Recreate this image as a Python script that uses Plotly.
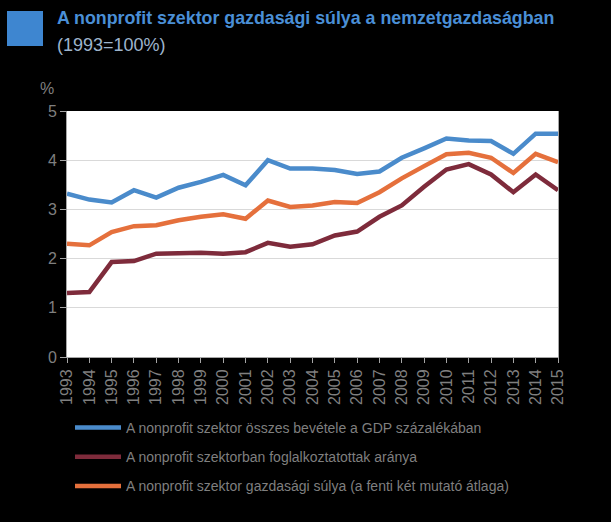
import plotly.graph_objects as go

years = [str(y) for y in range(1993, 2016)]
revenue_gdp = [3.32, 3.20, 3.14, 3.39, 3.24, 3.44, 3.56, 3.70, 3.49, 4.00, 3.83, 3.83, 3.80,
               3.72, 3.77, 4.05, 4.24, 4.44, 4.40, 4.39, 4.13, 4.54, 4.54]
employment_share = [1.30, 1.32, 1.93, 1.95, 2.10, 2.12, 2.12, 2.10, 2.13, 2.32, 2.24, 2.29, 2.47,
                    2.55, 2.85, 3.08, 3.46, 3.81, 3.92, 3.71, 3.35, 3.71, 3.39]
economic_weight = [2.30, 2.27, 2.54, 2.66, 2.68, 2.78, 2.85, 2.90, 2.81, 3.18, 3.05, 3.08, 3.15,
                   3.13, 3.35, 3.63, 3.88, 4.12, 4.15, 4.05, 3.74, 4.13, 3.96]

series_names = [
    "A nonprofit szektor összes bevétele a GDP százalékában",
    "A nonprofit szektorban foglalkoztatottak aránya",
    "A nonprofit szektor gazdasági súlya (a fenti két mutató átlaga)",
]
series_values = [revenue_gdp, employment_share, economic_weight]
series_colors = ["#4A8BCB", "#7E2B3B", "#E5703C"]

title_text = "A nonprofit szektor gazdasági súlya a nemzetgazdaságban"
subtitle_text = "(1993=100%)"
y_unit = "%"

W, H = 611, 522
L, R, T, B = 67, 53, 111, 165
pw, ph = W - L - R, H - T - B

def px_x(px):
    return (px - L) / pw

def px_y(py):
    return (H - B - py) / ph

SANS = "Liberation Sans, Arial, sans-serif"
TXT = "#7f7f7f"

fig = go.Figure()
for i, (name, vals, col) in enumerate(zip(series_names, series_values, series_colors)):
    fig.add_trace(go.Scatter(
        x=years, y=vals, mode="lines", name=name,
        line=dict(color=col, width=4.5), legendgroup=f"g{i}",
    ))

fig.update_layout(
    width=W, height=H,
    margin=dict(l=L, r=R, t=T, b=B, pad=0),
    paper_bgcolor="#000000",
    plot_bgcolor="#ffffff",
    font=dict(family=SANS, color=TXT, size=15),
    showlegend=True,
    legend=dict(
        x=px_x(70), xanchor="left", y=px_y(412), yanchor="top",
        bgcolor="rgba(0,0,0,0)", font=dict(size=14, color=TXT),
        itemwidth=46, tracegroupgap=8, traceorder="grouped",
    ),
    xaxis=dict(
        type="category", range=[0, 22], tickangle=-90,
        showline=True, linecolor="#a6a6a6", linewidth=1,
        ticks="outside", ticklen=5, tickcolor="#a6a6a6",
        showgrid=False, tickfont=dict(size=16, color=TXT),
    ),
    yaxis=dict(
        range=[0, 5], dtick=1, tick0=0,
        showline=True, linecolor="#a6a6a6", linewidth=1, mirror=True,
        ticks="outside", ticklen=6, tickcolor="#a6a6a6",
        gridcolor="#d9d9d9", gridwidth=1, zeroline=False,
        tickfont=dict(size=16, color=TXT),
    ),
    shapes=[dict(
        type="rect", xref="paper", yref="paper",
        x0=px_x(7), x1=px_x(43), y0=px_y(46), y1=px_y(11),
        fillcolor="#3E86D0", line=dict(width=0),
    )],
    annotations=[
        dict(text=f"<b>{title_text}</b>", xref="paper", yref="paper",
             x=px_x(55), y=px_y(18), xanchor="left", yanchor="middle", showarrow=False,
             font=dict(family=SANS, size=17.8, color="#4A8FD6")),
        dict(text=subtitle_text, xref="paper", yref="paper",
             x=px_x(55), y=px_y(45), xanchor="left", yanchor="middle", showarrow=False,
             font=dict(family=SANS, size=18, color="#9DB4CC")),
        dict(text=y_unit, xref="paper", yref="paper",
             x=px_x(47), y=px_y(88), xanchor="center", yanchor="middle", showarrow=False,
             font=dict(size=16, color=TXT)),
    ],
)

fig.write_html("out.html", config={"displayModeBar": False},
               post_script="document.body.style.margin='0px';")
